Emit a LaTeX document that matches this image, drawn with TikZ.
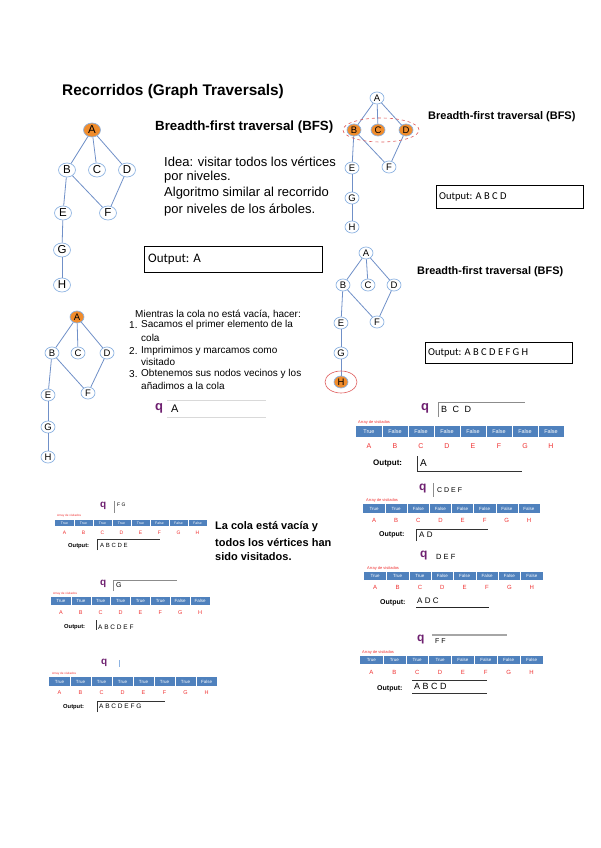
\documentclass[tikz,border=0pt]{standalone}
\usepackage{fontspec}
\setmainfont{Liberation Sans}
\newfontfamily\calib{Carlito}
\usetikzlibrary{shapes.geometric}
\definecolor{nodeblue}{HTML}{8DB3E2}
\definecolor{edgeblue}{HTML}{7090C8}
\definecolor{visorange}{HTML}{F08C2C}
\definecolor{tblue}{HTML}{4F81BD}
\definecolor{qpurple}{HTML}{6E2070}
\definecolor{lblred}{HTML}{F03030}
\definecolor{ringred}{HTML}{E06060}
\newcommand{\fsz}[1]{\fontsize{#1}{#1}\selectfont}
\tikzset{
  gnode/.style={ellipse, draw=nodeblue, line width=0.7pt, fill=white, inner sep=0pt,
    minimum width=17pt, minimum height=14pt, font=\fsz{11.5}},
  gnodeS/.style={gnode, minimum width=14pt, minimum height=12pt, font=\fsz{9.5}},
  visited/.style={fill=visorange},
  gedge/.style={draw=edgeblue, line width=0.8pt},
  txt/.style={anchor=west, inner sep=0pt},
  obox/.style={draw=black, line width=0.7pt, rectangle, anchor=north west, inner sep=0pt},
  celltxt/.style={text=white, inner sep=0pt},
  lbl/.style={text=lblred, inner sep=0pt},
  arrlbl/.style={txt, text=lblred, font=\fsz{4}},
  qsym/.style={txt, text=qpurple, font=\bfseries\fsz{13}},
  outlbl/.style={txt, font=\bfseries\fsz{7}},
  qline/.style={draw=black!45, line width=0.5pt},
  oline/.style={draw=black!80, line width=0.7pt},
}
\newcommand{\vtable}[9]{%
  \pgfmathsetmacro{\vtcw}{#4/8}%
  \fill[tblue] (#2,#3) rectangle ++(#4,#5);%
  \foreach \vv [count=\i from 0] in {#6} {%
    \node[celltxt, font=\fsz{#8}] (#1c\i) at ({#2+\vtcw*(\i+0.5)},{#3+#5/2}) {\vv};%
  }%
  \foreach \i in {1,...,7} {\draw[white, line width=0.5pt] ({#2+\vtcw*\i},#3) -- ++(0,#5);}%
  \foreach \ll [count=\i from 0] in {A,B,C,D,E,F,G,H} {%
    \node[lbl, font=\fsz{#9}] (#1l\i) at ({#2+\vtcw*(\i+0.5)},{#3+#5+#7}) {\ll};}%
}
\begin{document}
\begin{tikzpicture}[x=1pt,y=-1pt]
\useasboundingbox (0,0) rectangle (600,848);
\fill[white] (0,0) rectangle (600,848);

% ---------- title and first slide ----------
\node[txt, font=\bfseries\fsz{15.4}] (title) at (62,92) {Recorridos (Graph Traversals)};
\node[txt, font=\bfseries\fsz{13.3}] (bfs1) at (155,127) {Breadth-first traversal (BFS)};
\node[txt, font=\fsz{13}] (idea1) at (164,162) {Idea: visitar todos los vértices};
\node[txt, font=\fsz{13}] (idea2) at (164,177) {por niveles.};
\node[txt, font=\fsz{13}] (idea3) at (164,193) {Algoritmo similar al recorrido};
\node[txt, font=\fsz{13}] (idea4) at (164,210) {por niveles de los árboles.};
\node[obox, minimum width=178pt, minimum height=26pt] (out1) at (144,246) {};
\node[txt, font=\calib\fsz{13}] (out1t) at ([xshift=4pt]out1.west) {Output: A};

\node[gnode, visited] (g1A) at (92,130) {A};
\node[gnode] (g1B) at (67,170) {B};
\node[gnode] (g1C) at (97,170) {C};
\node[gnode] (g1D) at (127,170) {D};
\node[gnode] (g1E) at (63,213) {E};
\node[gnode] (g1F) at (108,213) {F};
\node[gnode] (g1G) at (62,250) {G};
\node[gnode] (g1H) at (62,285) {H};
\foreach \u/\v in {A/B,A/C,A/D,B/E,B/F,D/F,E/G,G/H} \draw[gedge] (g1\u) -- (g1\v);

% ---------- graph 2 ----------
\node[txt, font=\bfseries\fsz{11}] (bfs2) at (428,117) {Breadth-first traversal (BFS)};
\node[obox, minimum width=147pt, minimum height=23pt] (out2) at (436,185) {};
\node[txt, font=\calib\fsz{10.5}] (out2t) at ([xshift=3pt]out2.west) {Output: A B C D};
\node[gnodeS] (g2A) at (377,98) {A};
\node[gnodeS, visited] (g2B) at (354,130) {B};
\node[gnodeS, visited] (g2C) at (378,130) {C};
\node[gnodeS, visited] (g2D) at (406,130) {D};
\node[gnodeS] (g2E) at (352,168) {E};
\node[gnodeS] (g2F) at (389,167) {F};
\node[gnodeS] (g2G) at (352,198) {G};
\node[gnodeS] (g2H) at (352,227) {H};
\foreach \u/\v in {A/B,A/C,A/D,B/E,B/F,D/F,E/G,G/H} \draw[gedge] (g2\u) -- (g2\v);
\node[ellipse, draw=ringred, dashed, line width=0.6pt, minimum width=76pt, minimum height=24pt] (ring2) at (381,130) {};

% ---------- graph 3 ----------
\node[txt, font=\bfseries\fsz{10.9}] (bfs3) at (417,272) {Breadth-first traversal (BFS)};
\node[obox, minimum width=147pt, minimum height=21pt] (out3) at (425,342) {};
\node[txt, font=\calib\fsz{10.5}] (out3t) at ([xshift=3pt]out3.west) {Output: A B C D E F G H};
\node[gnodeS] (g3A) at (366,253) {A};
\node[gnodeS] (g3B) at (343,285) {B};
\node[gnodeS] (g3C) at (368,285) {C};
\node[gnodeS] (g3D) at (394,285) {D};
\node[gnodeS] (g3E) at (341,323) {E};
\node[gnodeS] (g3F) at (377,322) {F};
\node[gnodeS] (g3G) at (341,353) {G};
\node[gnodeS, visited] (g3H) at (341,382) {H};
\foreach \u/\v in {A/B,A/C,A/D,B/E,B/F,D/F,E/G,G/H} \draw[gedge] (g3\u) -- (g3\v);
\node[ellipse, draw=ringred, line width=0.6pt, minimum width=32pt, minimum height=22pt] (ring3) at (341,382) {};

% ---------- graph 4 ----------
\node[gnodeS, visited] (g4A) at (77,317) {A};
\node[gnodeS] (g4B) at (52,353) {B};
\node[gnodeS] (g4C) at (78,353) {C};
\node[gnodeS] (g4D) at (107,353) {D};
\node[gnodeS] (g4E) at (48,395) {E};
\node[gnodeS] (g4F) at (88,393) {F};
\node[gnodeS] (g4G) at (48,427) {G};
\node[gnodeS] (g4H) at (48,457) {H};
\foreach \u/\v in {A/B,A/C,A/D,B/E,B/F,D/F,E/G,G/H} \draw[gedge] (g4\u) -- (g4\v);

\node[txt, font=\fsz{10}] (mi0) at (135,314) {Mientras la cola no está vacía, hacer:};
\node[txt, font=\fsz{10}] (n1) at (129,325) {1.};
\node[txt, font=\fsz{10}] (n2) at (129,351) {2.};
\node[txt, font=\fsz{10}] (n3) at (129,374) {3.};
\node[txt, font=\fsz{10}] (mi1) at (141,325) {Sacamos el primer elemento de la};
\node[txt, font=\fsz{10}] (mi2) at (141,338) {cola};
\node[txt, font=\fsz{10}] (mi3) at (141,351) {Imprimimos y marcamos como};
\node[txt, font=\fsz{10}] (mi4) at (141,362) {visitado};
\node[txt, font=\fsz{10}] (mi5) at (141,374) {Obtenemos sus nodos vecinos y los};
\node[txt, font=\fsz{10}] (mi6) at (141,386) {añadimos a la cola};
\node[qsym] (q0) at (155,408) {q};
\coordinate (q0a) at (167,400); \coordinate (q0b) at (266,400);
\coordinate (q0c) at (167,417); \coordinate (q0d) at (266,417);
\draw[draw=black!15, line width=0.6pt] (q0a) -- (q0b) (q0c) -- (q0d);
\node[txt, font=\fsz{11}] (q0t) at (171,409) {A};

% ---------- right table 1 ----------
\node[qsym] (qr1) at (421,408) {q};
\coordinate (qr1a) at (438,417); \coordinate (qr1b) at (438,402); \coordinate (qr1c) at (525,402);
\draw[qline] (qr1a) -- (qr1b) -- (qr1c);
\node[txt, font=\fsz{9}] (qr1t) at (441,409) {B\,\, C\,\, D};
\node[arrlbl] (ar1) at (358,422) {Array de visitados};
\vtable{rA}{356}{426}{208}{11}{True,False,False,False,False,False,False,False}{9}{5.5}{7}
\node[outlbl, font=\bfseries\fsz{8}] (or1) at (373,464) {Output:};
\coordinate (or1a) at (417,456); \coordinate (or1b) at (417,471); \coordinate (or1c) at (522,471);
\draw[oline] (or1a) -- (or1b) -- (or1c);
\node[txt, font=\fsz{10}] (or1t) at (420,463) {A};

% ---------- right table 2 ----------
\node[qsym, font=\bfseries\fsz{12}] (qr2) at (419,489) {q};
\coordinate (qr2a) at (433,483); \coordinate (qr2b) at (433,497);
\draw[qline] (qr2a) -- (qr2b);
\node[txt, font=\fsz{7}] (qr2t) at (437,490) {C D E F};
\node[arrlbl] (ar2) at (366,500) {Array de visitados};
\vtable{rB}{363}{504}{177}{9}{True,True,False,False,False,False,False,False}{7}{4.5}{6}
\node[outlbl] (or2) at (379,535) {Output:};
\coordinate (or2a) at (416,541); \coordinate (or2b) at (416,529); \coordinate (or2c) at (488,529);
\draw[oline] (or2a) -- (or2b) -- (or2c);
\node[txt, font=\fsz{8}] (or2t) at (419,535) {A D};

% ---------- right table 3 ----------
\node[qsym, font=\bfseries\fsz{12}] (qr3) at (420,556) {q};
\node[txt, font=\fsz{7.5}] (qr3t) at (436,557) {D E F};
\node[arrlbl] (ar3) at (367,568) {Array de visitados};
\vtable{rC}{364}{572}{179}{8}{True,True,True,False,False,False,False,False}{7}{4.5}{6}
\node[outlbl] (or3) at (380,603) {Output:};
\coordinate (or3a) at (416,607); \coordinate (or3b) at (489,607);
\draw[draw=black!85, line width=1pt] (or3a) -- (or3b);
\node[txt, font=\fsz{8}] (or3t) at (417,601) {A D C};

% ---------- right table 4 ----------
\coordinate (qr4a) at (432,635); \coordinate (qr4b) at (507,635);
\draw[draw=black!35, line width=1.4pt] (qr4a) -- (qr4b);
\node[qsym, font=\bfseries\fsz{12}] (qr4) at (417,640) {q};
\node[txt, font=\fsz{7}] (qr4t) at (435,641) {F F};
\node[arrlbl] (ar4) at (362,652) {Array de visitados};
\vtable{rD}{360}{656}{183}{8}{True,True,True,True,False,False,False,False}{8}{4.5}{6}
\node[outlbl] (or4) at (377,689) {Output:};
\coordinate (or4a) at (412,680); \coordinate (or4b) at (487,680);
\coordinate (or4c) at (412,693); \coordinate (or4d) at (487,693);
\draw[oline] (or4a) -- (or4b) (or4c) -- (or4d);
\node[txt, font=\fsz{9}] (or4t) at (414,686) {A B C D};

% ---------- left table 1 ----------
\node[qsym, font=\bfseries\fsz{10}] (ql1) at (100,506) {q};
\coordinate (ql1a) at (114,501); \coordinate (ql1b) at (114,513);
\draw[qline] (ql1a) -- (ql1b);
\node[txt, font=\fsz{5}] (ql1t) at (117,505) {F G};
\node[arrlbl, font=\fsz{3}] (al1) at (57,516) {Array de visitados};
\vtable{lA}{55}{520}{152}{6}{True,True,True,True,True,False,False,False}{7}{3.5}{5}
\node[outlbl, font=\bfseries\fsz{5.8}] (ol1) at (68,546) {Output:};
\coordinate (ol1a) at (97,550); \coordinate (ol1b) at (97,539); \coordinate (ol1c) at (160,539);
\draw[oline] (ol1a) -- (ol1b) -- (ol1c);
\node[txt, font=\fsz{6}] (ol1t) at (100,545) {A B C D E};
\node[txt, font=\bfseries\fsz{11}] (fin1) at (215,527) {La cola está vacía y};
\node[txt, font=\bfseries\fsz{11}] (fin2) at (215,543) {todos los vértices han};
\node[txt, font=\bfseries\fsz{11}] (fin3) at (215,557) {sido visitados.};

% ---------- left table 2 ----------
\node[qsym, font=\bfseries\fsz{10}] (ql2) at (100,584) {q};
\coordinate (ql2a) at (113,591); \coordinate (ql2b) at (113,580); \coordinate (ql2c) at (177,580);
\draw[qline] (ql2a) -- (ql2b) -- (ql2c);
\node[txt, font=\fsz{7}] (ql2t) at (116,585) {G};
\node[arrlbl, font=\fsz{3}] (al2) at (53,594) {Array de visitados};
\vtable{lB}{51}{597}{159}{8}{True,True,True,True,True,True,False,False}{8}{4.5}{5.5}
\node[outlbl, font=\bfseries\fsz{5.8}] (ol2) at (64,627) {Output:};
\coordinate (ol2a) at (96,620); \coordinate (ol2b) at (96,630);
\draw[oline] (ol2a) -- (ol2b);
\node[txt, font=\fsz{6.5}] (ol2t) at (98,627) {A B C D E F};

% ---------- left table 3 ----------
\node[qsym, font=\bfseries\fsz{10}] (ql3) at (101,663) {q};
\coordinate (ql3a) at (119,660); \coordinate (ql3b) at (119,667);
\draw[draw=nodeblue, line width=0.6pt] (ql3a) -- (ql3b);
\node[arrlbl, font=\fsz{3}] (al3) at (52,674) {Array de visitados};
\vtable{lC}{49}{677}{168}{9}{True,True,True,True,True,True,True,False}{7}{4.5}{5.5}
\node[outlbl, font=\bfseries\fsz{5.8}] (ol3) at (63,707) {Output:};
\coordinate (ol3a) at (97,712); \coordinate (ol3b) at (97,701); \coordinate (ol3c) at (165,701);
\draw[oline] (ol3a) -- (ol3b) -- (ol3c);
\node[txt, font=\fsz{6.5}] (ol3t) at (99,706) {A B C D E F G};
\end{tikzpicture}
\end{document}
